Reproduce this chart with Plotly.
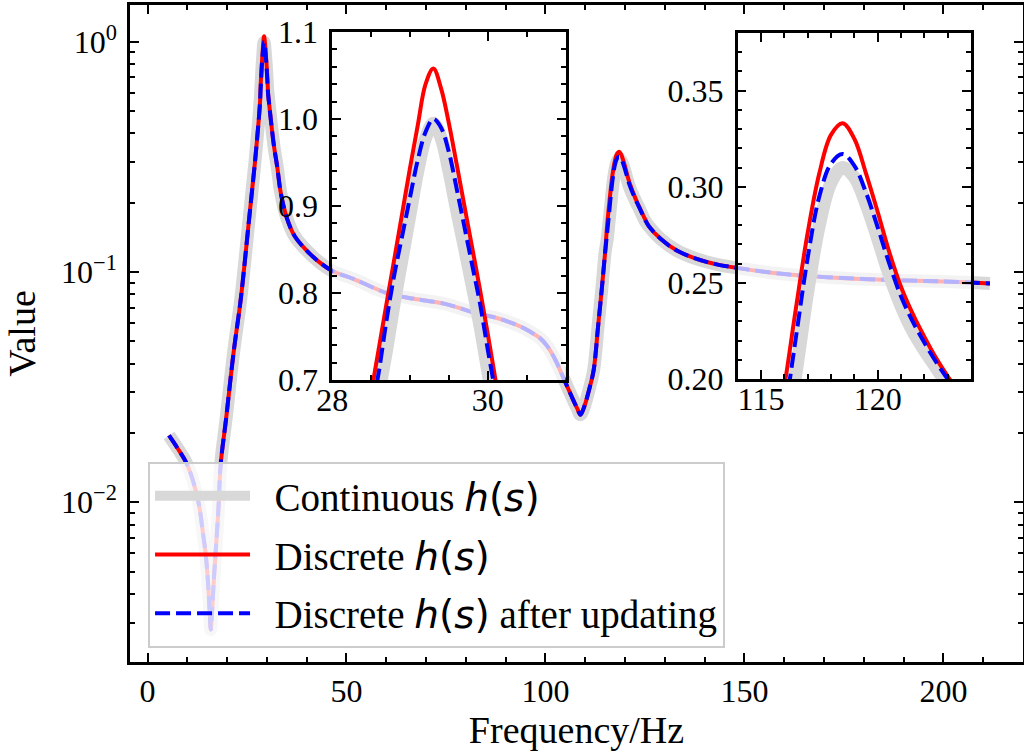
import plotly.graph_objects as go

# ---------------- data ----------------
# common part before first resonance
freq_low = [5.4, 7.5, 9.6, 11.3, 12.9, 14.0, 14.6, 15.2, 15.6, 15.9, 16.2, 16.6, 17.1,
            17.8, 18.4, 19.7, 21.7, 23.4, 25.5, 27.0, 27.6, 28.0, 28.3]
value_low = [0.0195, 0.0172, 0.0150, 0.0126, 0.0098, 0.0072, 0.0060, 0.0045, 0.0034,
             0.0028, 0.0033, 0.0044, 0.0060, 0.0092, 0.0147, 0.0227, 0.0457, 0.0754,
             0.168, 0.30, 0.39, 0.47, 0.555]

# first resonance (series differ)
freq_peak1 = [28.4, 28.5, 28.6, 28.7, 28.8, 28.9, 29.0, 29.1, 29.2, 29.3, 29.4, 29.5,
              29.6, 29.7, 29.8, 29.9, 30.0, 30.1, 30.2]
cont_peak1 = [0.585, 0.635, 0.685, 0.735, 0.79, 0.84, 0.89, 0.94, 0.978, 0.995, 0.978, 0.94,
              0.895, 0.852, 0.808, 0.762, 0.71, 0.66, 0.615]
disc_peak1 = [0.633, 0.685, 0.737, 0.789, 0.84, 0.892, 0.944, 0.993, 1.04, 1.058, 1.035, 0.995,
              0.948, 0.90, 0.852, 0.804, 0.753, 0.70, 0.65]
upd_peak1 = [0.61, 0.66, 0.71, 0.77, 0.822, 0.866, 0.91, 0.953, 0.985, 1.0, 0.99, 0.962,
             0.92, 0.876, 0.832, 0.788, 0.735, 0.685, 0.635]

# common middle part
freq_mid = [30.3, 30.6, 31.0, 31.8, 32.6, 33.5, 35.0, 37.0, 40.0, 43.0, 46.5, 52.0, 60.0,
            67.0, 74.5, 83.0, 88.0, 93.7, 96.2, 98.7, 100.4, 102.5, 104.6, 106.5, 108.0,
            108.8, 109.8, 111.0, 112.1, 113.2, 114.2, 115.0]
value_mid = [0.595, 0.53, 0.457, 0.35, 0.286, 0.22, 0.172, 0.143, 0.124, 0.111, 0.101, 0.093,
             0.0812, 0.0765, 0.0729, 0.0659, 0.0630, 0.0580, 0.0550, 0.0515, 0.0478, 0.0415,
             0.0344, 0.029, 0.0255, 0.0240, 0.0262, 0.031, 0.0374, 0.0575, 0.086, 0.122]

# second resonance (series differ)
freq_peak2 = [115.5, 116.0, 116.5, 117.0, 117.5, 118.0, 118.5, 119.0, 119.5, 120.0, 120.5,
              121.0, 121.5, 122.0, 122.5, 123.0, 123.5, 124.0, 125.0]
cont_peak2 = [0.138, 0.167, 0.203, 0.245, 0.28, 0.302, 0.310, 0.305, 0.291, 0.273, 0.254,
              0.238, 0.225, 0.215, 0.206, 0.197, 0.19, 0.182, 0.167]
disc_peak2 = [0.16, 0.196, 0.237, 0.276, 0.307, 0.327, 0.333, 0.325, 0.307, 0.287, 0.266,
              0.248, 0.234, 0.222, 0.211, 0.2015, 0.193, 0.185, 0.170]
upd_peak2 = [0.148, 0.181, 0.222, 0.263, 0.295, 0.312, 0.317, 0.311, 0.297, 0.279, 0.26,
             0.243, 0.23, 0.219, 0.209, 0.2, 0.192, 0.184, 0.169]

# common tail
freq_high = [126.0, 129.0, 133.0, 138.0, 143.0, 148.5, 160.0, 170.7, 185.0, 200.0, 211.7]
value_high = [0.158, 0.139, 0.124, 0.114, 0.108, 0.104, 0.098, 0.095, 0.0925, 0.0910, 0.0892]

freq = freq_low + freq_peak1 + freq_mid + freq_peak2 + freq_high
continuous = value_low + cont_peak1 + value_mid + cont_peak2 + value_high
discrete = value_low + disc_peak1 + value_mid + disc_peak2 + value_high
updated = value_low + upd_peak1 + value_mid + upd_peak2 + value_high

# ---------------- styling ----------------
SERIF = "Liberation Serif, Times New Roman, serif"
GRAY = "#d8d8d8"
RED = "#ff0000"
BLUE = "#0000ff"
HS = '<span style="font-family:DejaVu Sans"><i>h</i>(<i>s</i>)</span>'
PAD = "\u00a0\u00a0"

names = [f"{PAD}Continuous {HS}", f"{PAD}Discrete {HS}", f"{PAD}Discrete {HS} after updating"]
series = [continuous, discrete, updated]
lines = [dict(color=GRAY, width=13),
         dict(color=RED, width=4),
         dict(color=BLUE, width=4, dash="15px,6px")]

fig = go.Figure()
subplots = [("x", "y"), ("x2", "y2"), ("x3", "y3")]
for k, (xa, ya) in enumerate(subplots):
    for i in range(3):
        fig.add_trace(go.Scatter(
            x=freq, y=series[i], mode="lines", name=names[i],
            line=dict(shape="spline", smoothing=1.0, **lines[i]),
            xaxis=xa, yaxis=ya, showlegend=(k == 0), legendgroup=f"g{i}",
            hoverinfo="skip"))

axis_common = dict(showline=True, linecolor="black", linewidth=2.5, mirror="ticks",
                   ticks="inside", tickcolor="black", tickwidth=2, ticklen=9,
                   showgrid=False, zeroline=False, automargin=False,
                   tickfont=dict(family=SERIF, size=32, color="black"))
minor_common = dict(ticks="inside", ticklen=5, tickwidth=1.6, tickcolor="black", showgrid=False)

minor_log = [m * 10.0 ** e for e in (-3, -2, -1) for m in range(2, 10)]

fig.update_layout(
    width=1024, height=756,
    margin=dict(l=130, r=1, t=5, b=94, pad=0),
    paper_bgcolor="white", plot_bgcolor="rgba(0,0,0,0)",
    font=dict(family=SERIF, color="black"),
    xaxis=dict(domain=[0, 1], range=[-4.4, 220], tickvals=[0, 50, 100, 150, 200],
               minor=dict(dtick=10, tick0=0, **minor_common),
               title=dict(text="Frequency/Hz", font=dict(family=SERIF, size=38), standoff=8),
               ticklabelstandoff=-1, **axis_common),
    yaxis=dict(domain=[0, 1], type="log", range=[-2.694, 0.16],
               tickvals=[0.01, 0.1, 1],
               ticktext=["10<sup>−2</sup>", "10<sup>−1</sup>", "10<sup>0</sup>"],
               minor=dict(tickmode="array", tickvals=minor_log, **minor_common),
               title=dict(text="Value", font=dict(family=SERIF, size=38), standoff=14),
               ticklabelstandoff=4, **axis_common),
    xaxis2=dict(domain=[0.2265, 0.4877], range=[28, 31], anchor="y2",
                tickvals=[28, 30], minor=dict(dtick=0.5, tick0=28, **minor_common),
                ticklabelstandoff=-10, **axis_common),
    yaxis2=dict(domain=[0.4292, 0.9589], range=[0.7, 1.1], anchor="x2",
                tickvals=[0.7, 0.8, 0.9, 1.0, 1.1], tickformat=".1f",
                minor=dict(dtick=0.02, tick0=0.7, **minor_common),
                ticklabelstandoff=5, **axis_common),
    xaxis3=dict(domain=[0.6805, 0.9417], range=[114, 124], anchor="y3",
                tickvals=[115, 120], minor=dict(dtick=1, tick0=114, **minor_common),
                ticklabelstandoff=-10, **axis_common),
    yaxis3=dict(domain=[0.4307, 0.9574], range=[0.2, 0.38], anchor="x3",
                tickvals=[0.20, 0.25, 0.30, 0.35], tickformat=".2f",
                minor=dict(dtick=0.01, tick0=0.2, **minor_common),
                ticklabelstandoff=5, **axis_common),
    legend=dict(x=0.0202, y=0.3045, xanchor="left", yanchor="top",
                bgcolor="rgba(255,255,255,0.8)", bordercolor="#cccccc", borderwidth=2,
                font=dict(family=SERIF, size=39, color="black"),
                itemwidth=95, tracegroupgap=5, traceorder="grouped"),
    showlegend=True,
)

# semi-transparent inset backgrounds (fade the main curves behind the insets)
fig.add_shape(type="rect", xref="x2", yref="y2", x0=28, x1=31, y0=0.7, y1=1.1,
              fillcolor="white", opacity=0.7, line=dict(width=0), layer="below")
fig.add_shape(type="rect", xref="x3", yref="y3", x0=114, x1=124, y0=0.2, y1=0.38,
              fillcolor="white", opacity=0.7, line=dict(width=0), layer="below")

fig.write_html("out.html", config={"displayModeBar": False},
               post_script="document.body.style.margin='0px';")
